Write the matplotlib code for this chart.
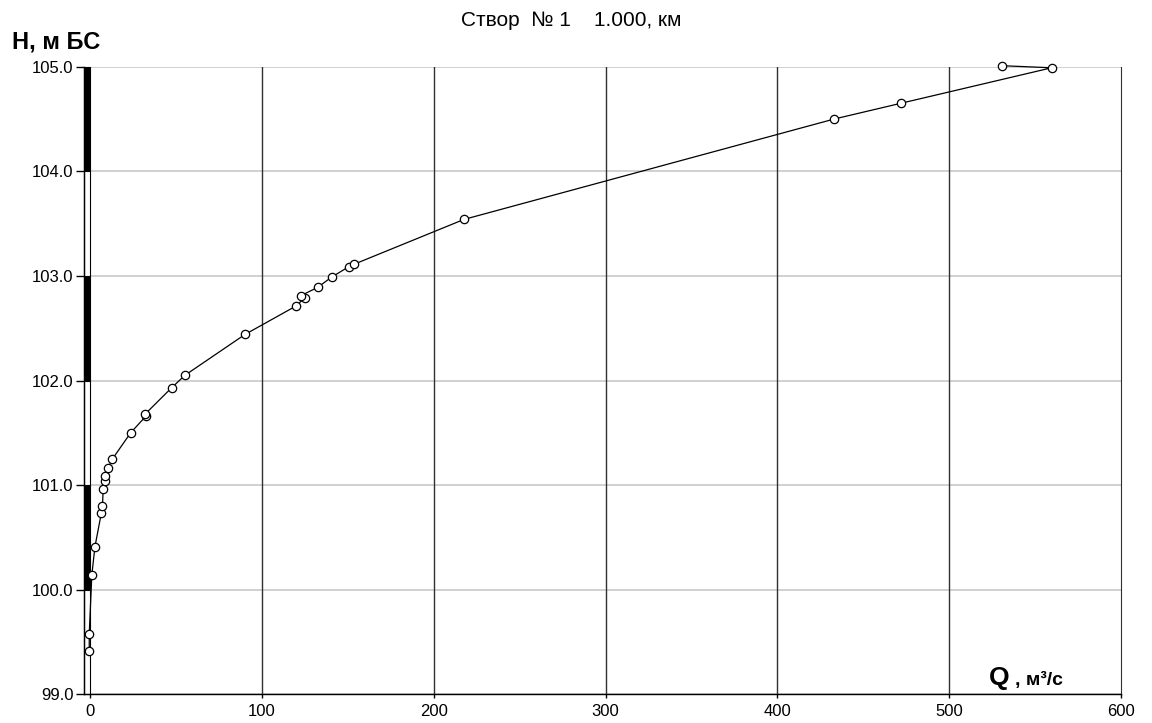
import matplotlib
matplotlib.use("Agg")
import matplotlib.pyplot as plt
from matplotlib.patches import Rectangle

plt.rcParams['font.family'] = ['Liberation Sans', 'DejaVu Sans']

# rating curve points, Q (m3/s) and H (m), in drawing order
q_vals = [-0.5, -0.5, 1.0, 2.8, 6.5, 7.2, 7.6, 8.8, 8.5, 10.5, 13.0, 23.6, 32.5, 32.1,
          47.4, 55.2, 90.1, 119.6, 125.0, 122.5, 132.4, 140.7, 150.8, 153.4, 217.6,
          433.1, 471.8, 559.7, 530.6]
h_vals = [99.41, 99.58, 100.14, 100.41, 100.73, 100.80, 100.96, 101.04, 101.09, 101.16,
          101.25, 101.50, 101.66, 101.68, 101.93, 102.05, 102.44, 102.71, 102.79, 102.81,
          102.89, 102.99, 103.09, 103.11, 103.54, 104.50, 104.65, 104.99, 105.01]

x_ticks = [0, 100, 200, 300, 400, 500, 600]
y_ticks = [99, 100, 101, 102, 103, 104, 105]
# striped level scale on the left axis
scale_black = [100, 102, 104]
scale_white = [99, 101, 103]

title = "Створ  № 1    1.000, км"

fig = plt.figure(figsize=(11.52, 7.23), dpi=100)
ax = fig.add_axes([0.0733, 0.0397, 0.8997, 0.868])

ax.set_xlim(-3.3, 600)
ax.set_ylim(99, 105)
ax.set_xticks(x_ticks)
ax.set_yticks(y_ticks)
ax.set_yticklabels(["%.1f" % v for v in y_ticks])

for y in y_ticks:
    ax.axhline(y, color="#c8c8c8", lw=1.2, zorder=0)
for x in x_ticks[1:-1]:
    ax.axvline(x, color="#303030", lw=1.0, zorder=0.5)

ax.spines["top"].set_visible(False)
ax.spines["right"].set_color("#303030")
ax.spines["left"].set_linewidth(1.0)
ax.spines["bottom"].set_linewidth(1.0)

ax.tick_params(axis="y", length=6, width=1, pad=2, labelsize=12)
ax.tick_params(axis="x", length=3, width=1, pad=4, labelsize=12)

tr = ax.get_yaxis_transform()
for b in scale_black:
    ax.add_patch(Rectangle((0, b), 0.0053, 1, transform=tr, facecolor="black",
                           edgecolor="black", lw=0.8, clip_on=False, zorder=2))
for b in scale_white:
    ax.add_patch(Rectangle((0, b), 0.0053, 1, transform=tr, facecolor="white",
                           edgecolor="black", lw=0.8, clip_on=False, zorder=2))

ax.plot(q_vals, h_vals, color="black", lw=0.9, marker="o", ms=6,
        markerfacecolor="white", markeredgecolor="black", mew=0.9, zorder=3,
        clip_on=False)

fig.text(0.496, 0.972, title, ha="center", va="center", fontsize=15)
fig.text(0.0104, 0.9426, "Н, м БС", ha="left", va="center", fontsize=17, fontweight="bold")
fig.text(0.8585, 0.0526, "Q", ha="left", va="baseline", fontsize=19, fontweight="bold")
fig.text(0.881, 0.0526, ", м³/с", ha="left", va="baseline", fontsize=14, fontweight="bold")

fig.savefig("out.png", dpi=100, facecolor="white")
